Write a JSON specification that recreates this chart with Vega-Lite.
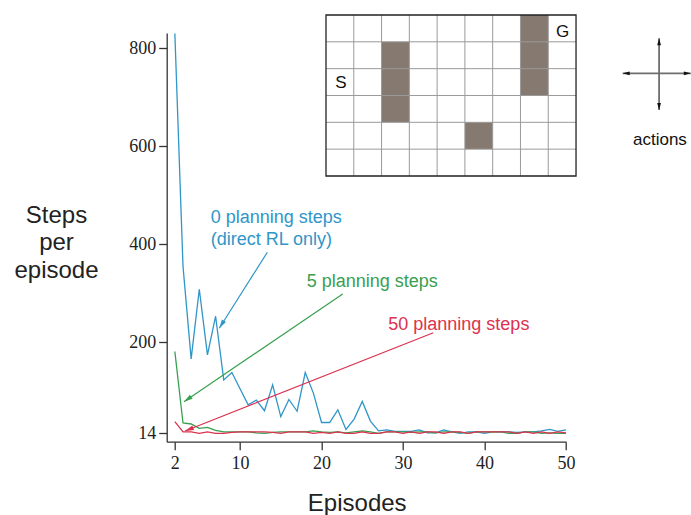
{
  "$schema": "https://vega.github.io/schema/vega-lite/v6.json",
  "width": 399.3,
  "height": 408.7,
  "autosize": {"type": "none"},
  "padding": {"left": 166.7, "top": 33, "right": 125, "bottom": 73.3},
  "background": "white",
  "config": {"view": {"stroke": null}},
  "datasets": {
    "runs": [
      {"episode": 2, "p0": 830, "p5": 181, "p50": 38},
      {"episode": 3, "p0": 355, "p5": 35, "p50": 17},
      {"episode": 4, "p0": 166, "p5": 33, "p50": 17},
      {"episode": 5, "p0": 308, "p5": 24, "p50": 14},
      {"episode": 6, "p0": 174, "p5": 26, "p50": 17},
      {"episode": 7, "p0": 253, "p5": 20, "p50": 14},
      {"episode": 8, "p0": 123, "p5": 17, "p50": 14},
      {"episode": 9, "p0": 138, "p5": 17, "p50": 16},
      {"episode": 10, "p0": 105, "p5": 17, "p50": 17},
      {"episode": 11, "p0": 72, "p5": 17, "p50": 17},
      {"episode": 12, "p0": 82, "p5": 15, "p50": 17},
      {"episode": 13, "p0": 60, "p5": 14, "p50": 17},
      {"episode": 14, "p0": 113, "p5": 16, "p50": 16},
      {"episode": 15, "p0": 48, "p5": 17, "p50": 14},
      {"episode": 16, "p0": 83, "p5": 17, "p50": 17},
      {"episode": 17, "p0": 59, "p5": 17, "p50": 17},
      {"episode": 18, "p0": 138, "p5": 17, "p50": 17},
      {"episode": 19, "p0": 96, "p5": 19, "p50": 14},
      {"episode": 20, "p0": 36, "p5": 17, "p50": 16},
      {"episode": 21, "p0": 36, "p5": 16, "p50": 14},
      {"episode": 22, "p0": 62, "p5": 17, "p50": 17},
      {"episode": 23, "p0": 22, "p5": 15, "p50": 14},
      {"episode": 24, "p0": 43, "p5": 17, "p50": 14},
      {"episode": 25, "p0": 79, "p5": 19, "p50": 17},
      {"episode": 26, "p0": 39, "p5": 17, "p50": 14},
      {"episode": 27, "p0": 19, "p5": 14, "p50": 14},
      {"episode": 28, "p0": 21, "p5": 17, "p50": 17},
      {"episode": 29, "p0": 18, "p5": 17, "p50": 17},
      {"episode": 30, "p0": 18, "p5": 17, "p50": 14},
      {"episode": 31, "p0": 18, "p5": 16, "p50": 17},
      {"episode": 32, "p0": 21, "p5": 17, "p50": 14},
      {"episode": 33, "p0": 15, "p5": 17, "p50": 17},
      {"episode": 34, "p0": 15, "p5": 15, "p50": 17},
      {"episode": 35, "p0": 21, "p5": 17, "p50": 14},
      {"episode": 36, "p0": 17, "p5": 17, "p50": 17},
      {"episode": 37, "p0": 14, "p5": 16, "p50": 17},
      {"episode": 38, "p0": 17, "p5": 14, "p50": 14},
      {"episode": 39, "p0": 17, "p5": 17, "p50": 17},
      {"episode": 40, "p0": 14, "p5": 17, "p50": 17},
      {"episode": 41, "p0": 17, "p5": 17, "p50": 17},
      {"episode": 42, "p0": 17, "p5": 17, "p50": 17},
      {"episode": 43, "p0": 17, "p5": 14, "p50": 17},
      {"episode": 44, "p0": 16, "p5": 14, "p50": 14},
      {"episode": 45, "p0": 17, "p5": 17, "p50": 17},
      {"episode": 46, "p0": 17, "p5": 17, "p50": 14},
      {"episode": 47, "p0": 19, "p5": 14, "p50": 17},
      {"episode": 48, "p0": 22, "p5": 15, "p50": 14},
      {"episode": 49, "p0": 18, "p5": 14, "p50": 17},
      {"episode": 50, "p0": 21, "p5": 14, "p50": 15}
    ]
  },
  "layer": [
    {
      "encoding": {
        "x": {
          "field": "episode", "type": "quantitative",
          "scale": {"domain": [1, 50], "nice": false, "zero": false},
          "axis": {
            "values": [2, 10, 20, 30, 40, 50], "title": "Episodes", "grid": false,
            "domainColor": "#333", "domainWidth": 1.3, "tickColor": "#333", "tickWidth": 1.3, "tickSize": 8,
            "labelFont": "Liberation Serif", "labelFontSize": 18, "labelColor": "#222", "labelPadding": 5,
            "labelFlush": false, "labelOverlap": false,
            "titleFont": "Liberation Sans", "titleFontSize": 24, "titleFontWeight": "normal", "titleColor": "#222",
            "titleX": 190, "titleY": 69, "titleBaseline": "alphabetic", "titleAlign": "center"
          }
        },
        "y": {
          "field": "steps", "type": "quantitative",
          "scale": {"domain": [-3.15, 831.2], "nice": false, "zero": false},
          "axis": {
            "values": [14, 200, 400, 600, 800], "title": ["Steps", "per", "episode"], "grid": false,
            "domainColor": "#333", "domainWidth": 1.3, "tickColor": "#333", "tickWidth": 1.3, "tickSize": 8,
            "labelFont": "Liberation Serif", "labelFontSize": 18, "labelColor": "#222", "labelPadding": 3,
            "labelFlush": false, "labelOverlap": false,
            "titleFont": "Liberation Sans", "titleFontSize": 24, "titleFontWeight": "normal", "titleColor": "#222",
            "titleAngle": 0, "titleX": -110.7, "titleY": 189, "titleAlign": "center", "titleBaseline": "alphabetic",
            "titleLineHeight": 27.5
          }
        }
      },
      "layer": [
        {
          "data": {"name": "runs"},
          "transform": [{"fold": ["p0", "p5", "p50"], "as": ["series", "steps"]}],
          "mark": {"type": "line", "strokeWidth": 1.3},
          "encoding": {
            "color": {
              "field": "series", "type": "nominal",
              "scale": {"domain": ["p0", "p5", "p50"], "range": ["#3096c8", "#38a050", "#dc3250"]},
              "legend": null
            }
          }
        },
        {
          "data": {"values": [
            {"name": "p0", "episode": 13.35, "steps": 383.5, "episode2": 7.45, "steps2": 228.4},
            {"name": "p5", "episode": 22.6, "steps": 298.4, "episode2": 3.12, "steps2": 78.5},
            {"name": "p50", "episode": 33.72, "steps": 219.4, "episode2": 3.25, "steps2": 18.7}
          ]},
          "mark": {"type": "rule", "strokeWidth": 1.2},
          "encoding": {
            "x2": {"field": "episode2"},
            "y2": {"field": "steps2"},
            "color": {"field": "name", "type": "nominal", "legend": null}
          }
        },
        {
          "data": {"values": [{"episode": 7.45, "steps": 228.4}]},
          "mark": {"type": "point", "shape": "M0,0L-0.6,2.2L0.6,2.2Z", "size": 64, "filled": true, "opacity": 1, "color": "#3096c8", "angle": 212.3, "strokeWidth": 0}
        },
        {
          "data": {"values": [{"episode": 3.12, "steps": 78.5}]},
          "mark": {"type": "point", "shape": "M0,0L-0.6,2.2L0.6,2.2Z", "size": 64, "filled": true, "opacity": 1, "color": "#38a050", "angle": 235.8, "strokeWidth": 0}
        },
        {
          "data": {"values": [{"episode": 3.25, "steps": 18.7}]},
          "mark": {"type": "point", "shape": "M0,0L-0.6,2.2L0.6,2.2Z", "size": 64, "filled": true, "opacity": 1, "color": "#dc3250", "angle": 248.4, "strokeWidth": 0}
        },
        {
          "data": {"values": [
            {"name": "p0", "episode": 6.4, "steps": 443.9, "label": ["0 planning steps", "(direct RL only)"]},
            {"name": "p5", "episode": 18.18, "steps": 312.1, "label": ["5 planning steps"]},
            {"name": "p50", "episode": 28.19, "steps": 224.9, "label": ["50 planning steps"]}
          ]},
          "mark": {"type": "text", "align": "left", "baseline": "alphabetic", "font": "Liberation Sans", "fontSize": 18, "lineHeight": 22.3},
          "encoding": {
            "text": {"field": "label"},
            "color": {"field": "name", "type": "nominal", "legend": null}
          }
        }
      ]
    },
    {
      "layer": [
        {
          "data": {"values": [
            {"c0": 2, "c1": 3, "r0": 1, "r1": 4},
            {"c0": 7, "c1": 8, "r0": 0, "r1": 3},
            {"c0": 5, "c1": 6, "r0": 4, "r1": 5}
          ]},
          "mark": {"type": "rect", "color": "#86796f", "opacity": 1},
          "encoding": {
            "x": {"field": "c0", "type": "quantitative", "axis": null, "scale": {"domain": [-5.734, 8.639], "nice": false, "zero": false}},
            "x2": {"field": "c1"},
            "y": {"field": "r0", "type": "quantitative", "axis": null, "scale": {"domain": [0.671, 15.904], "reverse": true, "nice": false, "zero": false}},
            "y2": {"field": "r1"}
          }
        },
        {
          "data": {"values": [{"c": 1}, {"c": 2}, {"c": 3}, {"c": 4}, {"c": 5}, {"c": 6}, {"c": 7}, {"c": 8}]},
          "mark": {"type": "rule", "color": "#9a9a9a", "strokeWidth": 1},
          "encoding": {
            "x": {"field": "c", "type": "quantitative", "axis": null},
            "y": {"datum": 0, "type": "quantitative", "axis": null},
            "y2": {"datum": 6}
          }
        },
        {
          "data": {"values": [{"r": 1}, {"r": 2}, {"r": 3}, {"r": 4}, {"r": 5}]},
          "mark": {"type": "rule", "color": "#9a9a9a", "strokeWidth": 1},
          "encoding": {
            "y": {"field": "r", "type": "quantitative", "axis": null},
            "x": {"datum": 0, "type": "quantitative", "axis": null},
            "x2": {"datum": 9}
          }
        },
        {
          "data": {"values": [{}]},
          "mark": {"type": "rect", "fill": null, "fillOpacity": 0, "stroke": "#222", "strokeWidth": 1.3},
          "encoding": {
            "x": {"datum": 0, "type": "quantitative", "axis": null},
            "x2": {"datum": 9},
            "y": {"datum": 0, "type": "quantitative", "axis": null},
            "y2": {"datum": 6}
          }
        },
        {
          "data": {"values": [
            {"c": 0.54, "r": 2.55, "t": "S"},
            {"c": 8.52, "r": 0.62, "t": "G"}
          ]},
          "mark": {"type": "text", "align": "center", "baseline": "middle", "font": "Liberation Sans", "fontSize": 17, "color": "#111"},
          "encoding": {
            "x": {"field": "c", "type": "quantitative", "axis": null},
            "y": {"field": "r", "type": "quantitative", "axis": null},
            "text": {"field": "t"}
          }
        },
        {
          "data": {"values": [
            {"c": 10.68, "c2": 13.13, "r": 2.173, "r2": 2.173},
            {"c": 11.99, "c2": 11.99, "r": 0.868, "r2": 3.54}
          ]},
          "mark": {"type": "rule", "color": "#6e6e6e", "strokeWidth": 1.8},
          "encoding": {
            "x": {"field": "c", "type": "quantitative", "axis": null},
            "x2": {"field": "c2"},
            "y": {"field": "r", "type": "quantitative", "axis": null},
            "y2": {"field": "r2"}
          }
        },
        {
          "data": {"values": [
            {"c": 11.99, "r": 0.868, "dir": "up"},
            {"c": 11.99, "r": 3.54, "dir": "down"},
            {"c": 10.68, "r": 2.173, "dir": "left"},
            {"c": 13.13, "r": 2.173, "dir": "right"}
          ]},
          "mark": {"type": "point", "filled": true, "opacity": 1, "size": 40, "color": "#111", "strokeWidth": 0},
          "encoding": {
            "x": {"field": "c", "type": "quantitative", "axis": null},
            "y": {"field": "r", "type": "quantitative", "axis": null},
            "shape": {
              "field": "dir", "type": "nominal", "legend": null,
              "scale": {
                "domain": ["up", "down", "left", "right"],
                "range": ["M0,0L-0.6,2.2L0.6,2.2Z", "M0,0L-0.6,-2.2L0.6,-2.2Z", "M0,0L2.2,-0.6L2.2,0.6Z", "M0,0L-2.2,-0.6L-2.2,0.6Z"]
              }
            }
          }
        },
        {
          "data": {"values": [{"c": 12.02, "r": 4.845, "t": "actions"}]},
          "mark": {"type": "text", "align": "center", "baseline": "alphabetic", "font": "Liberation Sans", "fontSize": 17, "color": "#111"},
          "encoding": {
            "x": {"field": "c", "type": "quantitative", "axis": null},
            "y": {"field": "r", "type": "quantitative", "axis": null},
            "text": {"field": "t"}
          }
        }
      ]
    }
  ],
  "resolve": {"scale": {"x": "independent", "y": "independent", "color": "independent", "shape": "independent"}}
}
